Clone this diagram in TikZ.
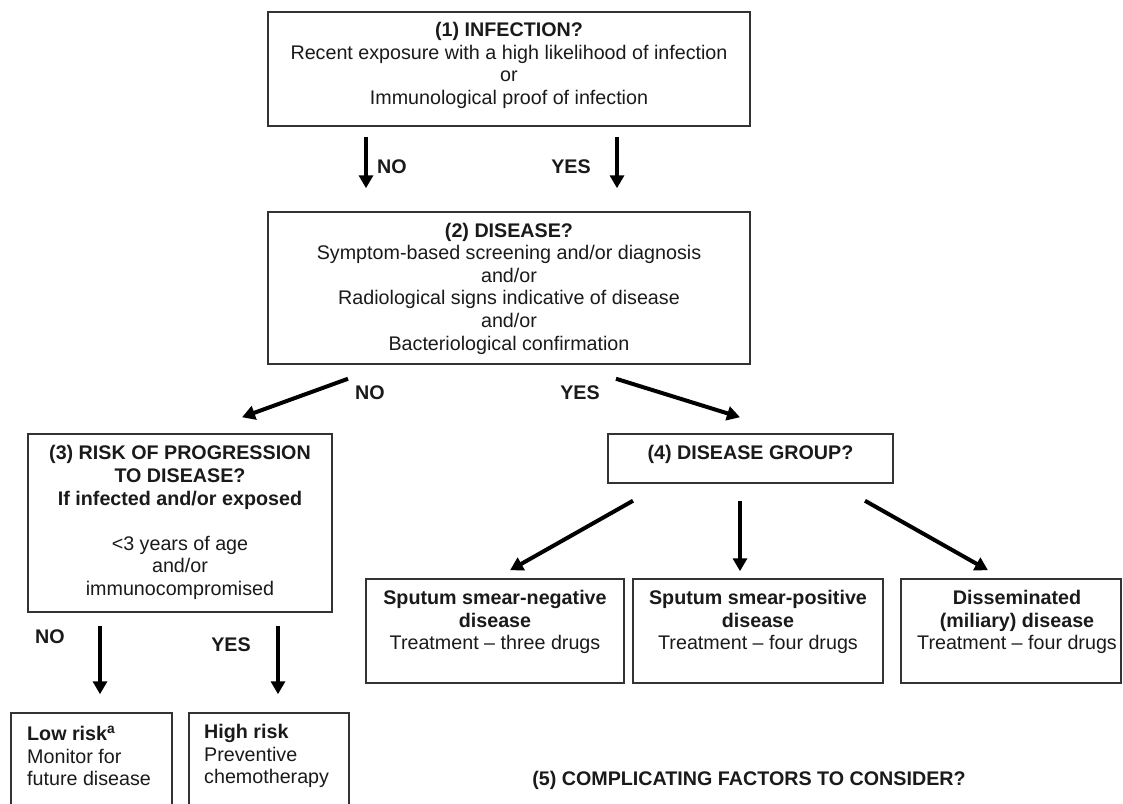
\documentclass[tikz,border=0pt]{standalone}
\usepackage{fontspec}
\setmainfont{Liberation Sans}
\usetikzlibrary{arrows.meta}
\definecolor{boxgray}{HTML}{333333}
\definecolor{textgray}{HTML}{1A1A1A}
\newcommand{\fs}{\fontsize{19.7}{22.6}\selectfont}
\tikzset{
  box/.style={draw=boxgray, line width=1.5pt, rectangle, inner sep=0pt},
  txt/.style={text=textgray, align=center, inner sep=0pt, font=\fs},
  lab/.style={text=textgray, inner sep=0pt, font=\fs\bfseries},
  arr/.style={draw=black, line width=4pt, -{Triangle[width=14pt,length=13pt]}},
}
\begin{document}
\begin{tikzpicture}[x=1pt, y=-1pt]
\useasboundingbox (0,0) rectangle (1123,803);
\clip (0,0) rectangle (1123,803);
\fill[white] (0,0) rectangle (1123,803);

% boxes
\node[box, minimum width=482pt, minimum height=114pt] (b1) at (509,69) {};
\node[box, minimum width=482pt, minimum height=152pt] (b2) at (509,288) {};
\node[box, minimum width=304pt, minimum height=178pt] (b3) at (180,523) {};
\node[box, minimum width=285pt, minimum height=49pt] (b4) at (750.5,458.5) {};
\node[box, minimum width=258pt, minimum height=104pt] (b5) at (495,631) {};
\node[box, minimum width=250pt, minimum height=104pt] (b6) at (758,631) {};
\node[box, minimum width=220pt, minimum height=104pt] (b7) at (1011,631) {};
\node[box, minimum width=161pt, minimum height=117pt] (b8) at (91.5,771.5) {};
\node[box, minimum width=160pt, minimum height=117pt] (b9) at (269,771.5) {};

% texts
\node[txt] (t1) at (509,65.5) {\textbf{(1) INFECTION?}\\Recent exposure with a high likelihood of infection\\or\\Immunological proof of infection};
\node[txt] (t2) at (509,288.5) {\textbf{(2) DISEASE?}\\Symptom-based screening and/or diagnosis\\and/or\\Radiological signs indicative of disease\\and/or\\Bacteriological confirmation};
\node[txt] (t3) at (180,522.5) {\textbf{(3) RISK OF PROGRESSION}\\\textbf{TO DISEASE?}\\\textbf{If infected and/or exposed}\\[22.6pt]{<}3 years of age\\and/or\\immunocompromised};
\node[txt] (t4) at (750.5,454) {\textbf{(4) DISEASE GROUP?}};
\node[txt] (t5) at (495,622) {\textbf{Sputum smear-negative}\\\textbf{disease}\\Treatment -- three drugs};
\node[txt] (t6) at (758,622) {\textbf{Sputum smear-positive}\\\textbf{disease}\\Treatment -- four drugs};
\node[txt] (t7) at (1017,622) {\textbf{Disseminated}\\\textbf{(miliary) disease}\\Treatment -- four drugs};
\node[txt, align=left, anchor=west] (t8) at (27,756) {\textbf{Low risk\textsuperscript{a}}\\Monitor for\\future disease};
\node[txt, align=left, anchor=west] (t9) at (204,756) {\textbf{High risk}\\Preventive\\chemotherapy};
\node[lab] (t10) at (749,780) {(5) COMPLICATING FACTORS TO CONSIDER?};

% labels
\node[lab] (l1) at (392,167) {NO};
\node[lab] (l2) at (571,167) {YES};
\node[lab] (l3) at (370,393) {NO};
\node[lab] (l4) at (580,393) {YES};
\node[lab] (l5) at (50,637) {NO};
\node[lab] (l6) at (231,645) {YES};

% arrows
\draw[arr] ([shift={(-143,10)}]b1.south) -- ([shift={(-143,-23)}]b2.north);
\draw[arr] ([shift={(108,10)}]b1.south) -- ([shift={(108,-23)}]b2.north);
\draw[arr] ([shift={(-161,14)}]b2.south) -- ([shift={(62,-16)}]b3.north);
\draw[arr] ([shift={(107,14)}]b2.south) -- ([shift={(-10.5,-16)}]b4.north);
\draw[arr] ([shift={(-117.5,17)}]b4.south) -- ([shift={(15,-8)}]b5.north);
\draw[arr] ([shift={(-10.5,17)}]b4.south) -- ([shift={(-18,-7)}]b6.north);
\draw[arr] ([shift={(114.5,17)}]b4.south) -- ([shift={(-23,-8)}]b7.north);
\draw[arr] ([shift={(-80,13)}]b3.south) -- ([shift={(8.5,-18)}]b8.north);
\draw[arr] ([shift={(98,13)}]b3.south) -- ([shift={(9,-18)}]b9.north);
\end{tikzpicture}
\end{document}
